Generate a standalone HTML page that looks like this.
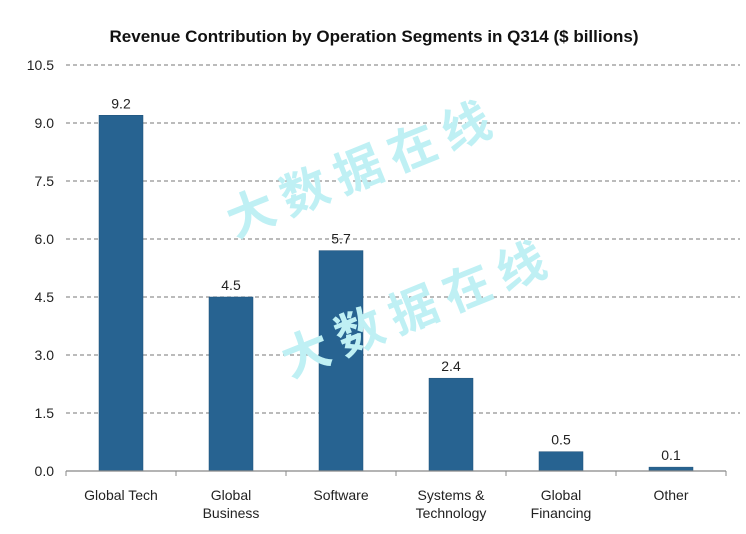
<!DOCTYPE html>
<html><head><meta charset="utf-8"><style>
html,body{margin:0;padding:0;background:#fff;}
svg{display:block;font-family:"Liberation Sans",Arial,sans-serif;}
</style></head><body>
<svg id="chart" width="746" height="534" viewBox="0 0 746 534">
<text x="374" y="42" text-anchor="middle" font-size="17" font-weight="bold" fill="#111">Revenue Contribution by Operation Segments in Q314 ($ billions)</text>
<g id="grid"></g><g id="bars"></g><g id="axis"></g>
<g fill="#bff0f4" font-family="'Noto Sans CJK SC',sans-serif" font-size="48" font-weight="bold">
<text transform="translate(235,238) rotate(-22)" letter-spacing="10">大数据在线</text>
<text transform="translate(290,378) rotate(-22)" letter-spacing="10">大数据在线</text>
</g>
</svg>
<script>
const categories=[["Global Tech"],["Global","Business"],["Software"],["Systems &","Technology"],["Global","Financing"],["Other"]];
const values=[9.2,4.5,5.7,2.4,0.5,0.1];
const yTicks=[0,1.5,3,4.5,6,7.5,9,10.5];
const yTickLabels=["0.0","1.5","3.0","4.5","6.0","7.5","9.0","10.5"];
const NS="http://www.w3.org/2000/svg";
const x0=66,x1=726,y0=471,y1=65,ymax=10.5;
const band=(x1-x0)/categories.length;
const y=v=>y0-(v/ymax)*(y0-y1);
const xc=i=>x0+band*(i+0.5);
function mk(t,a,p){const e=document.createElementNS(NS,t);for(const k in a)e.setAttribute(k,a[k]);p.appendChild(e);return e;}
const grid=document.getElementById('grid'),bars=document.getElementById('bars'),axis=document.getElementById('axis');
yTicks.forEach((v,i)=>{
 if(v>0){const l=mk('line',{x1:x0,x2:740,y1:y(v),y2:y(v),stroke:'#777','stroke-width':1,'stroke-dasharray':'4,3'},grid);
 
 }
 const t=mk('text',{x:54,y:y(v)+5,'text-anchor':'end','font-size':14,fill:'#222'},axis);
 t.textContent=yTickLabels[i];
 
 
});
const ax=mk('line',{x1:x0,x2:x1,y1:y0,y2:y0,stroke:'#888','stroke-width':1.2},axis);


for(let i=0;i<=categories.length;i++){
 const tk=mk('line',{x1:x0+band*i,x2:x0+band*i,y1:y0,y2:y0+5,stroke:'#888'},axis);
 
 
}
values.forEach((v,i)=>{
 const bw=44;
 const r=mk('rect',{x:xc(i)-bw/2,y:y(v),width:bw,height:y0-y(v),fill:'#276391',stroke:'#1f5078','stroke-width':0.5},bars);
 
 
 const t=mk('text',{x:xc(i),y:y(v)-7,'text-anchor':'middle','font-size':14,fill:'#222'},bars);
 t.textContent=v.toFixed(1);
 
 
 categories[i].forEach((line,j)=>{
  const c=mk('text',{x:xc(i),y:500+j*18,'text-anchor':'middle','font-size':14,fill:'#222'},axis);
  c.textContent=line;
  
  
 });
});
</script>
</body></html>
